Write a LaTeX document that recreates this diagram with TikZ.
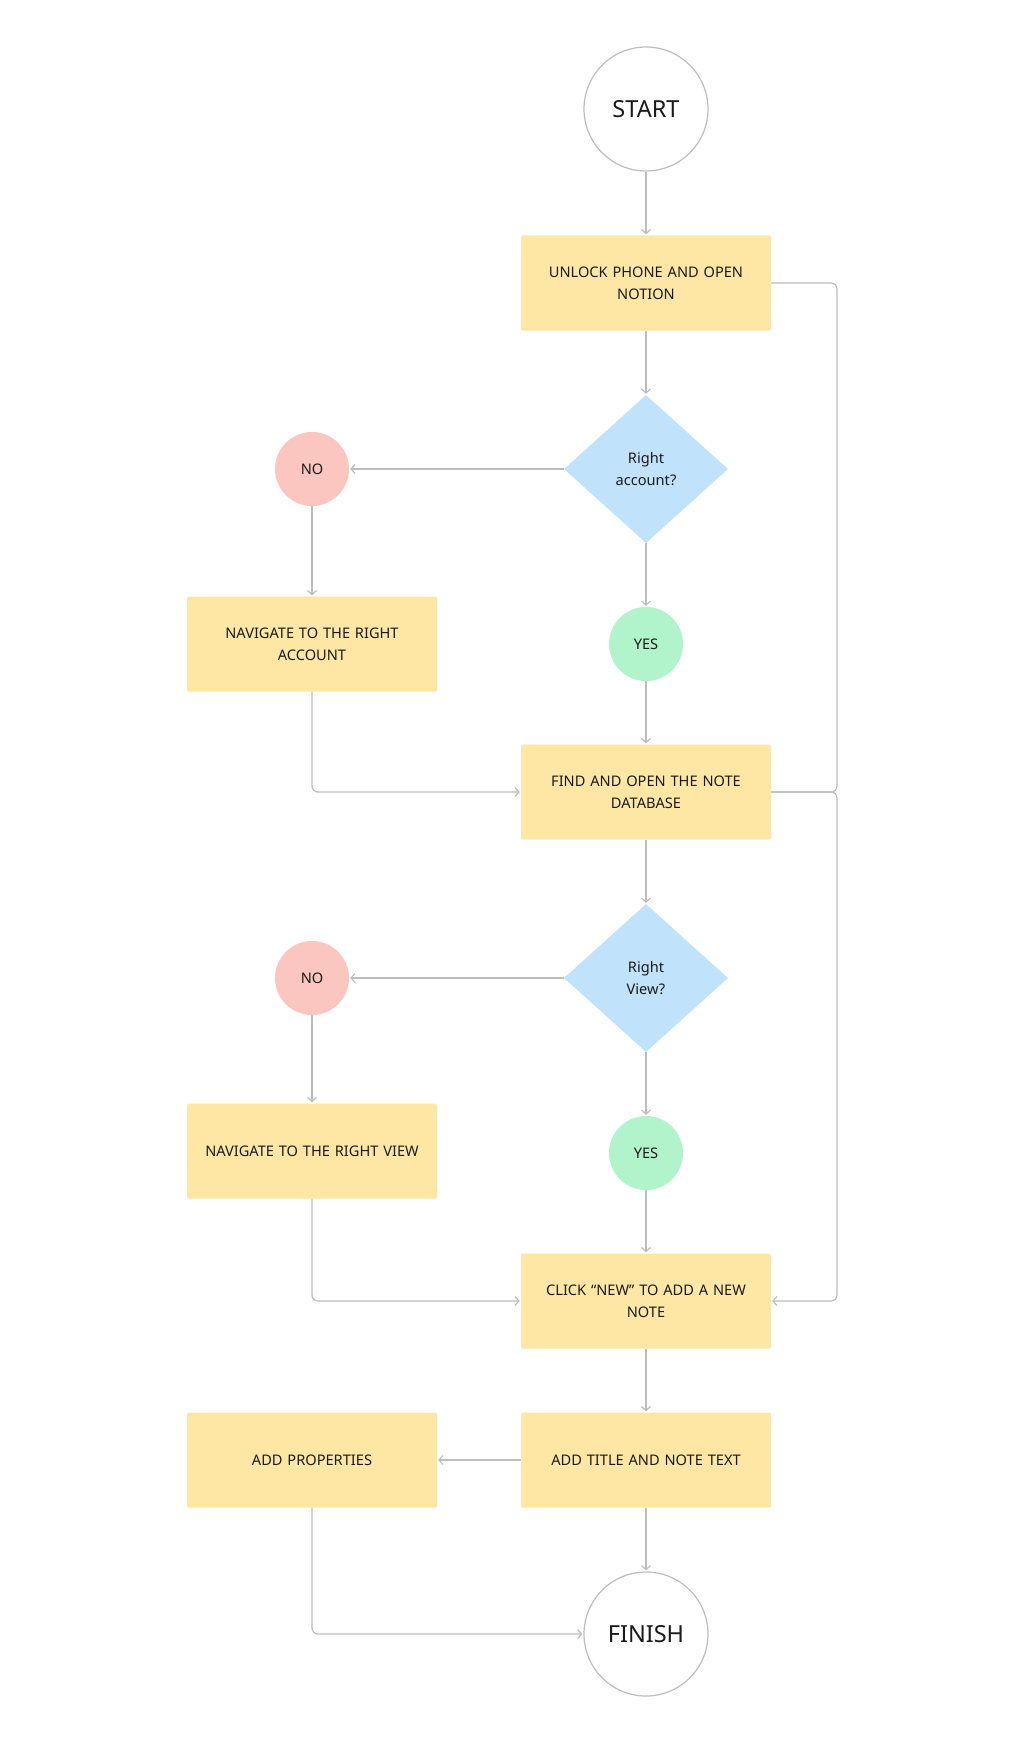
\documentclass[tikz,border=0pt]{standalone}
\usepackage{fontspec}
\setmainfont{Noto Sans}
\usetikzlibrary{shapes.geometric,arrows.meta}
\definecolor{boxfill}{HTML}{FEE7A4}
\definecolor{dfill}{HTML}{C0E3FB}
\definecolor{nofill}{HTML}{FCC6C0}
\definecolor{yesfill}{HTML}{B1F3CB}
\definecolor{linegray}{HTML}{BDBDBD}
\definecolor{txt}{HTML}{1A1A1A}
\tikzset{
  stepbox/.style={rectangle, rounded corners=1.5pt, fill=boxfill, minimum width=250pt, minimum height=95pt, text width=225pt, align=center, font=\fontsize{14.6}{22}\selectfont, text=txt, inner sep=0pt},
  decision/.style={diamond, fill=dfill, minimum width=164pt, minimum height=148pt, inner sep=0pt, align=center, font=\fontsize{14.6}{22}\selectfont, text=txt},
  nonode/.style={circle, fill=nofill, minimum size=74pt, inner sep=0pt, font=\fontsize{14.6}{17}\selectfont, text=txt},
  yesnode/.style={circle, fill=yesfill, minimum size=74pt, inner sep=0pt, font=\fontsize{14.6}{17}\selectfont, text=txt},
  terminal/.style={circle, draw=linegray, line width=1.2pt, fill=white, minimum size=124pt, inner sep=0pt, font=\fontsize{23.5}{26}\selectfont, text=txt},
  conn/.style={draw=linegray, line width=1.2pt, -{Straight Barb[length=4pt,width=9pt]}, shorten >=1pt, rounded corners=6pt},
  plain/.style={draw=linegray, line width=1.2pt, rounded corners=6pt}
}
\begin{document}
\begin{tikzpicture}[x=1pt,y=-1pt]
\useasboundingbox (0,0) rectangle (1024,1744);
\fill[white] (0,0) rectangle (1024,1744);
\node[terminal] (start) at (646,109) {START};
\node[stepbox] (unlock) at (646,283) {UNLOCK PHONE AND OPEN\\NOTION};
\node[decision] (d1) at (646,469) {Right\\account?};
\node[nonode] (no1) at (312,469) {NO};
\node[stepbox] (navacc) at (312,644) {NAVIGATE TO THE RIGHT\\ACCOUNT};
\node[yesnode] (yes1) at (646,644) {YES};
\node[stepbox] (find) at (646,792) {FIND AND OPEN THE NOTE\\DATABASE};
\node[decision] (d2) at (646,978) {Right\\View?};
\node[nonode] (no2) at (312,978) {NO};
\node[stepbox] (navview) at (312,1151) {NAVIGATE TO THE RIGHT VIEW};
\node[yesnode] (yes2) at (646,1153) {YES};
\node[stepbox] (click) at (646,1301) {CLICK “NEW” TO ADD A NEW\\NOTE};
\node[stepbox] (title) at (646,1460) {ADD TITLE AND NOTE TEXT};
\node[stepbox] (props) at (312,1460) {ADD PROPERTIES};
\node[terminal] (finish) at (646,1634) {FINISH};
\coordinate (r1) at (837,283);
\coordinate (r2) at (837,792);
\coordinate (r3) at (837,1301);

\draw[conn] (start) -- (unlock);
\draw[conn] (unlock) -- (d1);
\draw[conn] (d1.west) -- (no1);
\draw[conn] (no1) -- (navacc);
\draw[conn] (d1.south) -- (yes1);
\draw[conn] (yes1) -- (find);
\draw[conn] (navacc.south) |- (find.west);
\draw[plain] (unlock.east) -- (r1) -- (r2) -- (find.east);
\draw[conn] (find.east) -- (r2) -- (r3) -- (click.east);
\draw[conn] (find) -- (d2);
\draw[conn] (d2.west) -- (no2);
\draw[conn] (no2) -- (navview);
\draw[conn] (d2.south) -- (yes2);
\draw[conn] (yes2) -- (click);
\draw[conn] (navview.south) |- (click.west);
\draw[conn] (click) -- (title);
\draw[conn] (title) -- (props);
\draw[conn] (title) -- (finish);
\draw[conn] (props.south) |- (finish.west);
\end{tikzpicture}
\end{document}
